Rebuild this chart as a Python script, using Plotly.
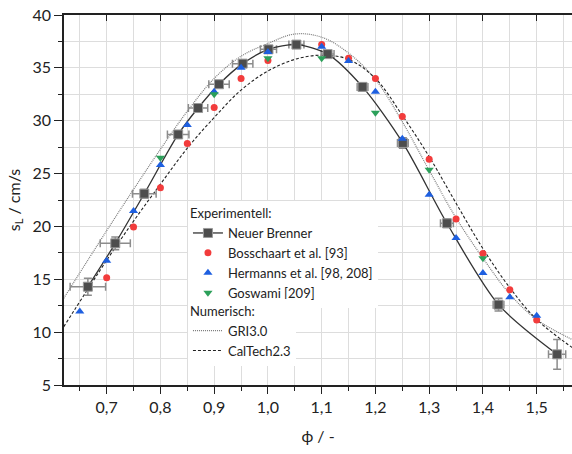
import plotly.graph_objects as go

# ---- data ----
phi_nb = [0.665, 0.716, 0.770, 0.833, 0.870, 0.909, 0.953, 1.001, 1.053, 1.111, 1.176, 1.251, 1.333, 1.429, 1.538]
s_nb = [14.3, 18.4, 23.1, 28.7, 31.2, 33.45, 35.4, 36.75, 37.2, 36.3, 33.2, 27.9, 20.3, 12.6, 7.9]
xerr_nb = [0.033, 0.028, 0.022, 0.020, 0.018, 0.019, 0.019, 0.015, 0.014, 0.012, 0.010, 0.010, 0.012, 0.010, 0.016]
yerr_nb = [0.8, 0.6, 0.4, 0.3, 0.3, 0.3, 0.3, 0.3, 0.3, 0.3, 0.4, 0.5, 0.4, 0.6, 1.4]

phi_b = [0.70, 0.75, 0.80, 0.85, 0.90, 0.95, 1.00, 1.10, 1.15, 1.20, 1.25, 1.30, 1.35, 1.40, 1.45, 1.50]
s_b = [15.15, 19.95, 23.65, 27.85, 31.25, 34.0, 35.7, 37.2, 35.9, 34.0, 30.4, 26.35, 20.7, 17.45, 14.0, 11.15]

phi_h = [0.65, 0.70, 0.75, 0.80, 0.85, 0.90, 0.95, 1.00, 1.10, 1.15, 1.20, 1.25, 1.30, 1.35, 1.40, 1.45, 1.50]
s_h = [11.95, 16.75, 21.45, 25.8, 29.6, 32.75, 35.0, 36.5, 37.0, 35.65, 32.75, 28.3, 23.0, 18.9, 15.6, 13.3, 11.55]

phi_g = [0.80, 0.90, 1.00, 1.10, 1.20, 1.30, 1.40]
s_g = [26.5, 32.5, 35.9, 35.9, 30.75, 25.35, 17.0]

phi_gri = [0.62, 0.70, 0.75, 0.80, 0.85, 0.90, 0.95, 1.00, 1.05, 1.10, 1.15, 1.20, 1.25, 1.30, 1.35, 1.40, 1.45, 1.50, 1.57]
s_gri = [13.2, 19.6, 23.5, 27.3, 30.9, 34.0, 36.1, 37.3, 38.2, 37.9, 36.4, 33.9, 29.9, 25.3, 20.8, 17.0, 13.6, 11.2, 9.2]

phi_ct = [0.62, 0.70, 0.75, 0.80, 0.85, 0.90, 0.95, 1.00, 1.05, 1.10, 1.15, 1.20, 1.25, 1.30, 1.35, 1.40, 1.45, 1.50, 1.57]
s_ct = [10.5, 16.8, 20.5, 24.0, 27.4, 30.3, 32.9, 34.7, 35.8, 36.2, 35.8, 34.0, 30.5, 26.6, 22.2, 17.9, 14.2, 11.2, 8.4]

x_range = [0.6206, 1.5657]
y_range = [5, 40]

FONT = "Lato"

fig = go.Figure()

# numerical curves
fig.add_trace(go.Scatter(x=phi_gri, y=s_gri, mode="lines", name="GRI3.0",
                         line=dict(color="#7a7a7a", width=1.2, dash="1px,1px", shape="spline", smoothing=1.0),
                         legend="legend2"))
fig.add_trace(go.Scatter(x=phi_ct, y=s_ct, mode="lines", name="CalTech2.3",
                         line=dict(color="#222222", width=1.1, dash="3px,2px", shape="spline", smoothing=1.0),
                         legend="legend2"))

# experiments
fig.add_trace(go.Scatter(x=phi_nb, y=s_nb, mode="lines+markers", name="Neuer Brenner",
                         line=dict(color="#333333", width=1.3, shape="spline", smoothing=0.8),
                         marker=dict(symbol="square", size=9, color="#4d4d4d",
                                     line=dict(color="#9a9a9a", width=1)),
                         error_x=dict(type="data", array=xerr_nb, color="#8c8c8c", thickness=1.5, width=4),
                         error_y=dict(type="data", array=yerr_nb, color="#8c8c8c", thickness=1.5, width=4),
                         legend="legend"))
fig.add_trace(go.Scatter(x=phi_b, y=s_b, mode="markers", name="Bosschaart et al. [93]",
                         marker=dict(symbol="circle", size=7, color="#f23c3c"), legend="legend"))
fig.add_trace(go.Scatter(x=phi_h, y=s_h, mode="markers", name="Hermanns et al. [98, 208]",
                         marker=dict(symbol="triangle-up", size=8, color="#1e5fe0"), legend="legend"))
fig.add_trace(go.Scatter(x=phi_g, y=s_g, mode="markers", name="Goswami [209]",
                         marker=dict(symbol="triangle-down", size=8, color="#2ca05a"), legend="legend"))

# helper trace for top axis
fig.add_trace(go.Scatter(x=[x_range[0]], y=[y_range[0]], xaxis="x2", mode="markers",
                         marker=dict(opacity=0), showlegend=False, hoverinfo="skip"))

fig.update_layout(
    width=572, height=454,
    margin=dict(l=64, r=0, t=15, b=69),
    paper_bgcolor="white", plot_bgcolor="white",
    separators=", ",
    font=dict(family=FONT, size=16, color="#222222"),
    showlegend=True,
    xaxis=dict(range=x_range, dtick=0.1, tick0=0.5, tickformat=".1f",
               ticks="outside", ticklen=7, tickwidth=1.2, tickcolor="#222",
               showline=True, linecolor="#222", linewidth=1.5, mirror=False,
               showgrid=True, gridcolor="#dddddd", gridwidth=1, zeroline=False,
               minor=dict(dtick=0.05, tick0=0.5, ticks="outside", ticklen=4, tickcolor="#222",
                          showgrid=True, gridcolor="#dddddd", gridwidth=1),
               title=dict(text="ϕ / -", font=dict(size=16), standoff=16),
               tickfont=dict(size=16)),
    xaxis2=dict(range=x_range, overlaying="x", side="top", dtick=0.1, tick0=0.5,
                ticks="inside", ticklen=6, tickwidth=1.2, tickcolor="#222",
                showticklabels=False, showgrid=False, zeroline=False,
                showline=True, linecolor="#222", linewidth=1.5),
    yaxis=dict(range=y_range, dtick=5, tick0=0,
               ticks="outside", ticklen=8, tickwidth=1.2, tickcolor="#222",
               showline=True, linecolor="#222", linewidth=1.5, mirror=False,
               showgrid=True, gridcolor="#dddddd", gridwidth=1, zeroline=False,
               minor=dict(dtick=2.5, tick0=0, ticks="outside", ticklen=4, tickcolor="#222",
                          showgrid=True, gridcolor="#dddddd", gridwidth=1),
               title=dict(text="s<sub>L</sub> / cm/s", font=dict(size=16), standoff=8),
               tickfont=dict(size=16)),
    legend=dict(x=0.244, y=0.497, xanchor="left", yanchor="top",
                bgcolor="white", borderwidth=0,
                title=dict(text="Experimentell:", font=dict(size=13)),
                font=dict(size=13, family=FONT), tracegroupgap=0, itemwidth=30),
    legend2=dict(x=0.244, y=0.233, xanchor="left", yanchor="top",
                 bgcolor="white", borderwidth=0,
                 title=dict(text="Numerisch:", font=dict(size=13)),
                 font=dict(size=13, family=FONT), tracegroupgap=0, itemwidth=30),
)

fig.write_html("out.html")
